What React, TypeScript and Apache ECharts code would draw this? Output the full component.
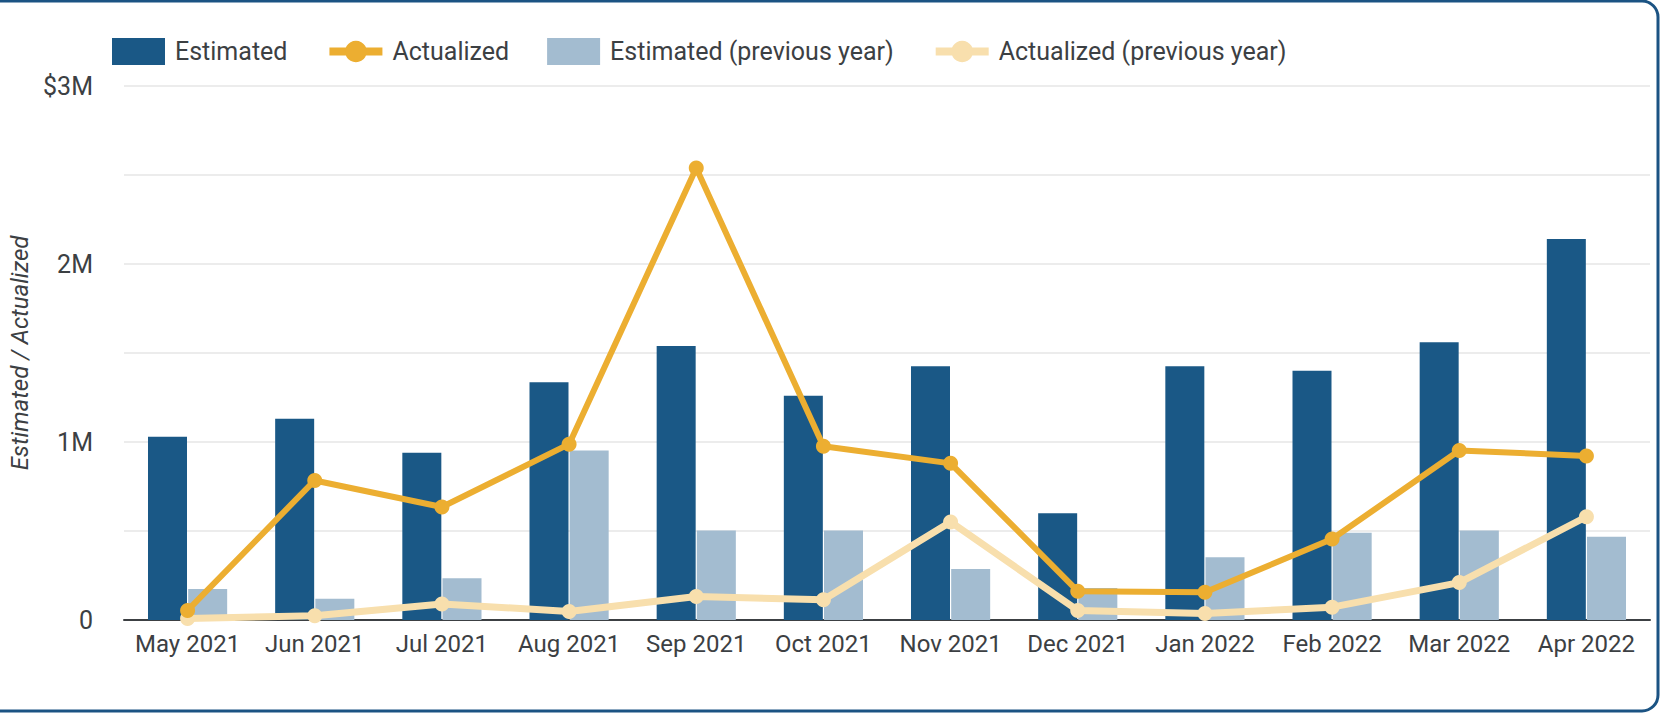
import React, { useEffect, useRef } from "react";
import * as echarts from "echarts";

const categories = ["May 2021", "Jun 2021", "Jul 2021", "Aug 2021", "Sep 2021", "Oct 2021", "Nov 2021", "Dec 2021", "Jan 2022", "Feb 2022", "Mar 2022", "Apr 2022"];
const estimated = [1030000, 1130000, 940000, 1335000, 1540000, 1260000, 1425000, 600000, 1425000, 1400000, 1560000, 2140000];
const actualized = [54000, 784000, 635000, 988000, 2540000, 976000, 880000, 162000, 156000, 455000, 952000, 922000];
const estimatedPrev = [174000, 120000, 234000, 952000, 503000, 503000, 287000, 180000, 353000, 490000, 503000, 467000];
const actualizedPrev = [8000, 24000, 90000, 48000, 132000, 114000, 551000, 54000, 36000, 72000, 210000, 580000];

const TEXT = "#3c4043";
const FONT = "Roboto";
const C_EST = "#1a5886";
const C_EST_PREV = "#a3bcd0";
const C_ACT = "#ecae31";
const C_ACT_PREV = "#f8dfad";

export default function App() {
  const ref = useRef<HTMLDivElement>(null);
  useEffect(() => {
    document.body.style.margin = "0";
    const chart = echarts.init(ref.current!, null, { renderer: "svg" });
    chart.setOption({
      animation: false,
      textStyle: { fontFamily: FONT, color: TEXT },
      graphic: [
        {
          type: "rect",
          shape: { x: -20, y: 1, width: 1678, height: 710, r: 16 },
          style: { fill: "none", stroke: "#1b5383", lineWidth: 3 },
          silent: true,
        },
      ],
      legend: {
        left: 107,
        top: 33,
        itemWidth: 53,
        itemHeight: 27,
        itemGap: 38,
        textStyle: { fontSize: 25, color: TEXT, fontFamily: FONT, padding: [0, 0, 0, 5] },
        data: [
          { name: "Estimated", icon: "rect" },
          { name: "Actualized", lineStyle: { width: 8, color: C_ACT } },
          { name: "Estimated (previous year)", icon: "rect" },
          { name: "Actualized (previous year)", lineStyle: { width: 8, color: C_ACT_PREV } },
        ],
      },
      grid: { left: 113, right: 17, top: 86, bottom: 94, containLabel: false },
      xAxis: {
        type: "category",
        data: categories,
        axisLine: { lineStyle: { color: TEXT, width: 2 } },
        axisTick: { show: false },
        axisLabel: { fontSize: 24, color: TEXT, margin: 12, fontFamily: FONT, interval: 0 },
      },
      yAxis: {
        type: "value",
        min: 0,
        max: 3000000,
        interval: 500000,
        name: "Estimated / Actualized",
        nameLocation: "middle",
        nameGap: 92,
        nameTextStyle: { fontSize: 24, fontStyle: "italic", color: TEXT, fontFamily: FONT },
        axisLine: { show: false },
        axisTick: { show: false },
        splitLine: { lineStyle: { color: "#e6e6e6", width: 1.5 } },
        axisLabel: {
          fontSize: 25,
          color: TEXT,
          margin: 31,
          fontFamily: FONT,
          formatter: (v: number) => {
            if (v % 1000000 !== 0) return "";
            if (v === 0) return "0";
            if (v === 3000000) return "$3M";
            return v / 1000000 + "M";
          },
        },
      },
      series: [
        {
          name: "Estimated",
          type: "bar",
          data: estimated,
          barWidth: 39,
          barGap: "3%",
          itemStyle: { color: C_EST },
        },
        {
          name: "Estimated (previous year)",
          type: "bar",
          data: estimatedPrev,
          barWidth: 39,
          barGap: "3%",
          itemStyle: { color: C_EST_PREV },
        },
        {
          name: "Actualized",
          type: "line",
          data: actualized,
          symbol: "circle",
          symbolSize: 15,
          lineStyle: { color: C_ACT, width: 6 },
          itemStyle: { color: C_ACT },
          z: 4,
        },
        {
          name: "Actualized (previous year)",
          type: "line",
          data: actualizedPrev,
          symbol: "circle",
          symbolSize: 15,
          lineStyle: { color: C_ACT_PREV, width: 7 },
          itemStyle: { color: C_ACT_PREV },
          z: 3,
        },
      ],
    });
    return () => chart.dispose();
  }, []);
  return <div ref={ref} style={{ width: 1667, height: 714 }} />;
}
